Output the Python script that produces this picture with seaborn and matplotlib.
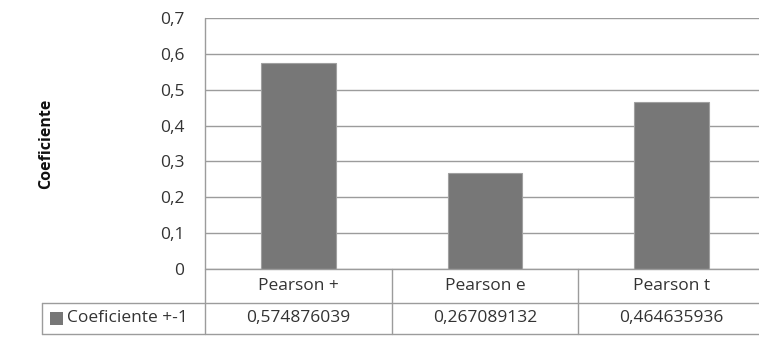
import matplotlib
matplotlib.use("Agg")
import matplotlib.pyplot as plt
import matplotlib.transforms as mtransforms
from matplotlib.patches import Rectangle
import pandas as pd
import seaborn as sns

# Data
categories = ["Pearson +", "Pearson e", "Pearson t"]
values = [0.574876039, 0.267089132, 0.464635936]
series_name = "Coeficiente +-1"
y_ticks = [0, 0.1, 0.2, 0.3, 0.4, 0.5, 0.6, 0.7]

df = pd.DataFrame({"categoria": categories, "coef": values})

sns.set_style("white")
plt.rcParams["font.family"] = ["Open Sans", "DejaVu Sans"]

W, H = 759, 339
fig = plt.figure(figsize=(W / 100, H / 100), dpi=100)


def fx(px):
    return px / W


def fy(py):
    return 1 - py / H


grid_col = "#9c9c9c"
text_col = "#333333"
fs = 12.5

# plot area (right edge runs a little past the picture, as in the original)
ax = fig.add_axes([fx(205), fy(269), fx(765) - fx(205), fy(18) - fy(269)])
sns.barplot(data=df, x="categoria", y="coef", color="#777777", saturation=1,
            width=0.4, edgecolor="#a0a0a0", linewidth=0.8, ax=ax)

ax.set_ylim(0, 0.7)
ax.set_xlim(-0.5, len(categories) - 0.5)
ax.set_yticks(y_ticks)
ax.set_yticklabels([("%.1f" % t).replace(".", ",") if t else "0" for t in y_ticks])
ax.tick_params(axis="y", length=0, pad=15, labelsize=fs, labelcolor=text_col)
ax.set_xticks([])
ax.set_xlabel("")
ax.set_ylabel("")
ax.yaxis.grid(True, color=grid_col, linewidth=1)
ax.set_axisbelow(True)
for s in ["top", "right", "bottom", "left"]:
    ax.spines[s].set_visible(False)

fig.text(fx(46), fy(144), "Coeficiente", rotation=90, ha="center", va="center",
         fontsize=11.5, fontweight="bold", color="#111111")

# data table below the axis
bt = mtransforms.blended_transform_factory(ax.transData, fig.transFigure)
row1, row2, row_end = fy(269), fy(303), fy(334)
left_px = 42

# horizontal lines of the table
fig.add_artist(plt.Line2D([fx(205), 1], [row1, row1], color=grid_col, lw=1))
fig.add_artist(plt.Line2D([fx(left_px), 1], [row2, row2], color=grid_col, lw=1))
fig.add_artist(plt.Line2D([fx(left_px), 1], [row_end, row_end], color=grid_col, lw=1))
# vertical lines
fig.add_artist(plt.Line2D([fx(left_px), fx(left_px)], [row2, row_end], color=grid_col, lw=1))
ax.plot([-0.5, -0.5], [row_end, fy(18)], color=grid_col, lw=1, transform=bt, clip_on=False)
for i in range(1, len(categories)):
    ax.plot([i - 0.5, i - 0.5], [row_end, row1], color=grid_col, lw=1,
            transform=bt, clip_on=False)

for i, (cat, v) in enumerate(zip(categories, values)):
    ax.text(i, (row1 + row2) / 2, cat, transform=bt, ha="center", va="center",
            fontsize=fs, color=text_col)
    ax.text(i, (row2 + row_end) / 2, ("%.9f" % v).replace(".", ","), transform=bt,
            ha="center", va="center", fontsize=fs, color=text_col)

# legend key in the table
fig.add_artist(Rectangle((fx(50), fy(325)), fx(13), fy(312) - fy(325),
                         facecolor="#777777", edgecolor="none"))
fig.text(fx(67), (row2 + row_end) / 2, series_name, ha="left", va="center",
         fontsize=fs, color=text_col)

fig.savefig("out.png", dpi=100, facecolor="white")
